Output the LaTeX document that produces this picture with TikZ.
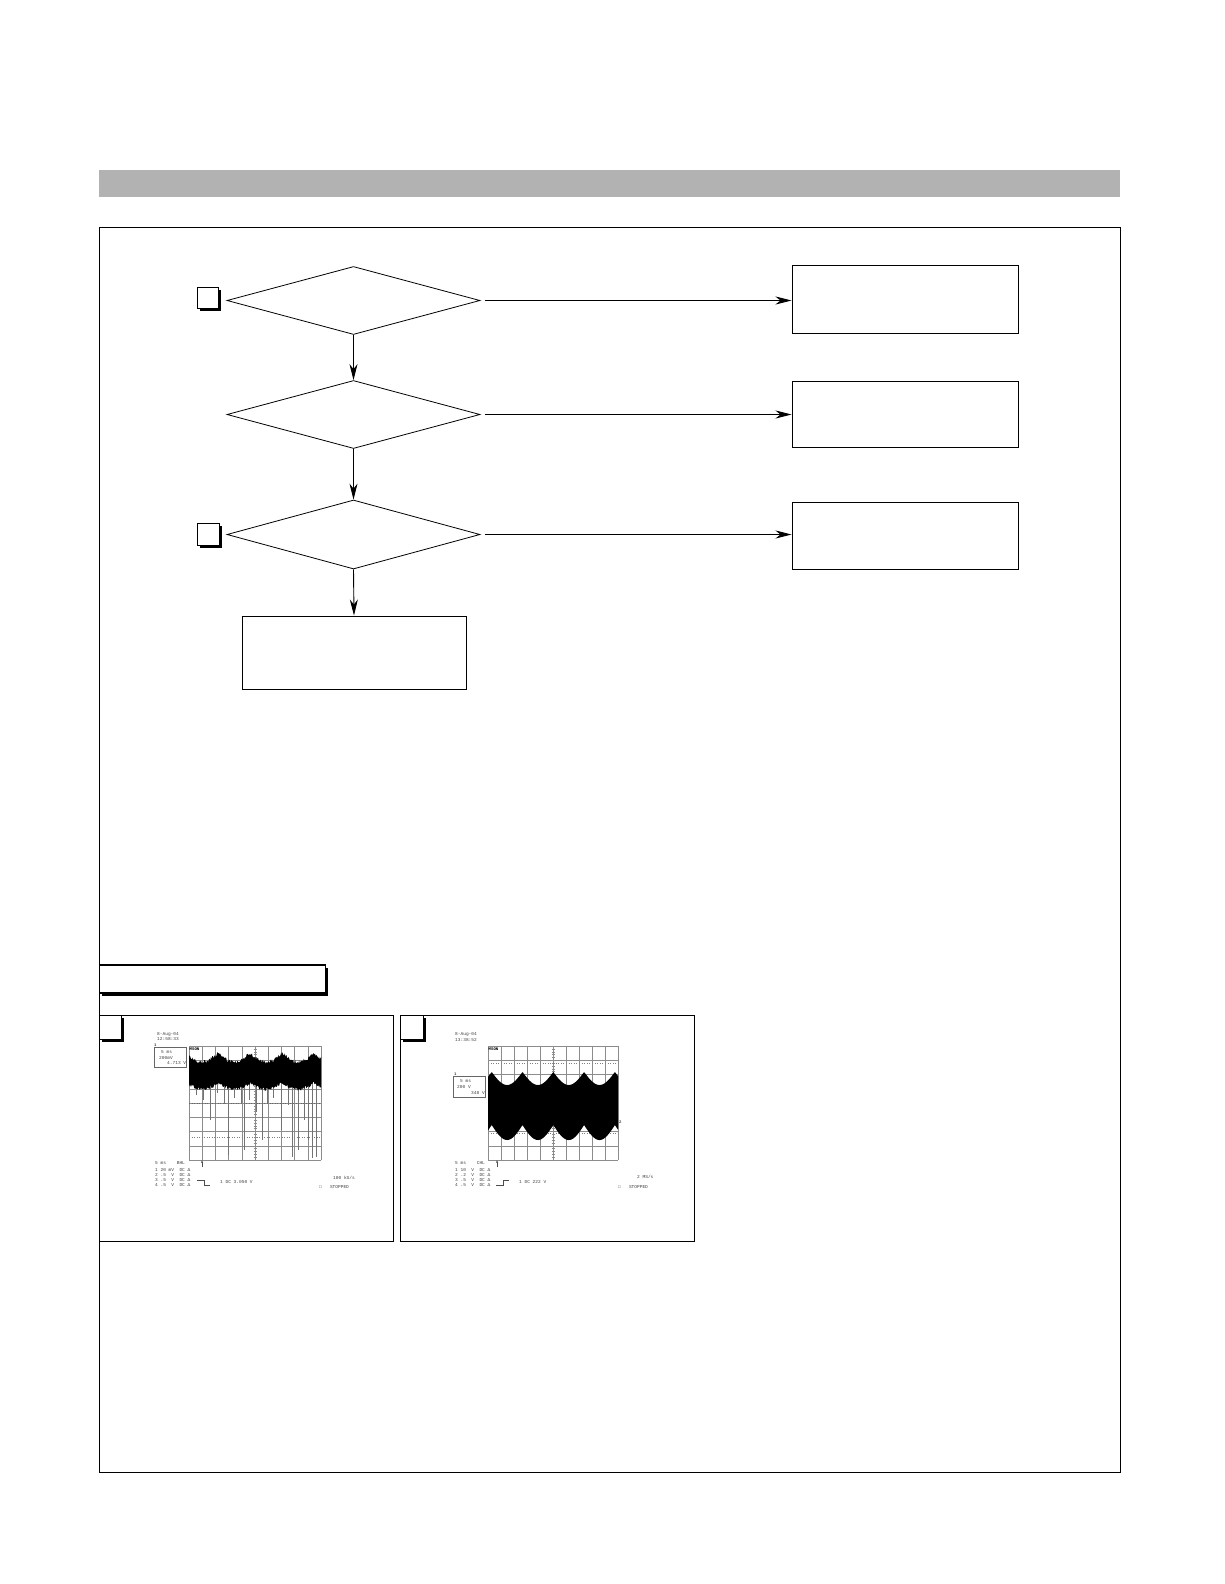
\documentclass[tikz,border=0pt]{standalone}
\usepackage{fontspec}
\setmonofont{Liberation Mono}
\usetikzlibrary{shapes.geometric,arrows.meta,shadows}
\begin{document}
\begin{tikzpicture}[x=1pt,y=-1pt,
  dec/.style={draw,shape=diamond,minimum width=253pt,minimum height=68pt,inner sep=0pt,line width=0.8pt},
  proc/.style={draw,rectangle,line width=1pt,inner sep=0pt},
  arr/.style={line width=0.9pt,-{Stealth[length=16pt,width=8pt,inset=5pt]}},
  shadowed/.style={drop shadow={shadow xshift=2.5pt,shadow yshift=-2.5pt,opacity=1,fill=black}},
  tag/.style={draw,fill=white,rectangle,line width=0.9pt,inner sep=0pt,shadowed},
  panel/.style={draw,rectangle,line width=1pt,inner sep=0pt},
  gridline/.style={black!45,line width=0.4pt},
  stxt/.style={font=\ttfamily\fontsize{4.5}{4.5}\selectfont,text=black!75,inner sep=0pt,anchor=west},
  spike/.style={black!55,line width=0.45pt}]
\useasboundingbox (0,0) rectangle (1224,1584);

% header bar and frame
\fill[black!30] (99,170) rectangle (1120,197);
\draw[line width=1pt] (99,227) rectangle (1120,1472);

% flowchart
\node[dec] (d1) at (353.5,300.5) {};
\node[dec] (d2) at (353.5,414.5) {};
\node[dec,minimum height=69pt] (d3) at (353.5,534.5) {};
\node[proc,minimum width=224pt,minimum height=73pt] (b4) at (354,652.5) {};
\node[proc,minimum width=226pt,minimum height=68pt] (r1) at (905,299) {};
\node[proc,minimum width=226pt,minimum height=66pt] (r2) at (905,414) {};
\node[proc,minimum width=226pt,minimum height=67pt] (r3) at (905,535.5) {};

\node[tag,minimum size=21pt] (m1) at (207.5,297.5) {};
\node[tag,minimum size=22pt] (m3) at (208,534.5) {};

\draw[arr,shorten <=5pt] (d1.east) -- (r1.west |- d1.east);
\draw[arr,shorten <=5pt] (d2.east) -- (r2.west |- d2.east);
\draw[arr,shorten <=5pt] (d3.east) -- (r3.west |- d3.east);
\draw[arr] (d1.south) -- (d2.north);
\draw[arr] (d2.south) -- (d3.north);
\draw[arr] (d3.south) -- (b4.north);

% waveform heading
\node[tag,line width=1.1pt,minimum width=226pt,minimum height=28pt] (wh) at (212.5,979) {};

% panels
\node[panel,minimum width=293.5pt,minimum height=226pt] (p1) at (246.25,1128) {};
\node[panel,minimum width=293.3pt,minimum height=226pt] (p2) at (547.35,1128) {};
\node[tag,minimum width=22pt,minimum height=24pt] (c1) at (110.5,1027) {};
\node[tag,minimum width=22.3pt,minimum height=24pt] (c2) at (411.85,1027) {};

% ---------- scope 1 ----------
\foreach \i in {0,...,10} \draw[gridline] ({189+13.2*\i},1046) -- ({189+13.2*\i},1160);
\foreach \j in {0,...,8} \draw[gridline] (189,{1046+14.25*\j}) -- (321,{1046+14.25*\j});
\foreach \j in {0,...,40} \draw[gridline] (253.5,{1046+2.85*\j}) -- (256.5,{1046+2.85*\j});
\draw[black!60,dotted,line width=0.6pt] (189,1103) -- (321,1103);
\draw[black!50,dotted,line width=0.5pt] (189,1137) -- (321,1137);
\foreach \sx/\sy in {196/1095,203/1100,210/1120,217/1093,224/1104,228/1155,234/1098,241/1104,244/1150,249/1100,256/1112,262/1140,267/1103,273/1098,281/1130,288/1105,292/1157,298/1150,304/1120,308/1140,312/1158,316/1157}
  \draw[spike] (\sx,1085) -- (\sx,\sy);
\pgfmathsetseed{7}
\fill[black] plot[domain=189:321,samples=200] (\x,{1053+9*abs(sin((\x-218)/32*180))+1.8*rand})
  -- plot[domain=321:189,samples=200] (\x,{1083+6*abs(sin((\x-218)/32*180))+1.8*rand}) -- cycle;
\node[stxt,font=\ttfamily\bfseries\fontsize{4}{4}\selectfont,text=black,fill=white] at (189.5,1049) {MSON};
\draw[black!70,line width=0.5pt,-{Stealth[length=3pt,width=2pt]}] (202,1167) -- (202,1160);
\node[stxt] at (157,1034) {8-Aug-04};
\node[stxt] at (157,1039.5) {12:58:33};
\draw[black!60,line width=0.5pt] (154,1047) rectangle (186,1067);
\node[stxt,font=\ttfamily\bfseries\fontsize{4}{4}\selectfont] at (154,1045) {1};
\node[stxt] at (161,1052.5) {5 ms};
\node[stxt] at (159,1058) {200mV};
\node[stxt] at (167,1063.5) {4.713 V};
\node[stxt] at (155,1163) {5 ms\ \ \ \ BHL};
\node[stxt] at (155,1170) {1 20 mV\ \ DC \char"0394};
\node[stxt] at (155,1175) {2 .5\ \ V\ \ DC \char"0394};
\node[stxt] at (155,1180) {3 .5\ \ V\ \ DC \char"0394};
\node[stxt] at (155,1185.5) {4 .5\ \ V\ \ DC \char"0394};
\draw[black!70,line width=0.5pt] (197,1180) -- (204,1180) -- (204,1185) -- (210,1185);
\node[stxt] at (220,1182) {1 DC 3.050 V};
\node[stxt] at (333,1178) {100 kS/s};
\node[stxt] at (319,1187) {\char"25A1\ \ \ STOPPED};

% ---------- scope 2 ----------
\foreach \i in {0,...,10} \draw[gridline] ({488+13*\i},1046) -- ({488+13*\i},1160);
\foreach \j in {0,...,8} \draw[gridline] (488,{1046+14.25*\j}) -- (618,{1046+14.25*\j});
\foreach \j in {0,...,40} \draw[gridline] (551.5,{1046+2.85*\j}) -- (554.5,{1046+2.85*\j});
\draw[black!50,dotted,line width=0.6pt] (488,1063) -- (618,1063);
\draw[black!50,dotted,line width=0.6pt] (488,1133) -- (618,1133);
\fill[black] plot[domain=488:618,samples=260] (\x,{1072+13*abs(sin((\x-491.7)/30.8*180))})
  -- plot[domain=618:488,samples=260] (\x,{1125+15*abs(sin((\x-491.7)/30.8*180))}) -- cycle;
\node[stxt,font=\ttfamily\bfseries\fontsize{4}{4}\selectfont,text=black,fill=white] at (488.5,1049.5) {MSON};
\node[stxt,font=\ttfamily\bfseries\fontsize{4}{4}\selectfont] at (619,1122) {2};
\draw[black!70,line width=0.5pt,-{Stealth[length=3pt,width=2pt]}] (497,1167) -- (497,1160);
\node[stxt] at (455,1034.5) {8-Aug-04};
\node[stxt] at (455,1040) {13:38:52};
\draw[black!60,line width=0.5pt] (453,1076) rectangle (485,1097);
\node[stxt,font=\ttfamily\bfseries\fontsize{4}{4}\selectfont] at (454,1074) {1};
\node[stxt] at (460,1081.5) {5 ms};
\node[stxt] at (457,1087) {200 V};
\node[stxt] at (471,1093) {348 V};
\node[stxt] at (455,1163) {5 ms\ \ \ \ CHL};
\node[stxt] at (455,1170) {1 10\ \ V\ \ DC \char"0394};
\node[stxt] at (455,1175) {2 .2\ \ V\ \ DC \char"0394};
\node[stxt] at (455,1180) {3 .5\ \ V\ \ DC \char"0394};
\node[stxt] at (455,1185.5) {4 .5\ \ V\ \ DC \char"0394};
\draw[black!70,line width=0.5pt] (496,1185) -- (503,1185) -- (503,1180) -- (509,1180);
\node[stxt] at (519,1182) {1 DC 222 V};
\node[stxt] at (637,1177) {2 MS/s};
\node[stxt] at (618,1187) {\char"25A1\ \ \ STOPPED};
\end{tikzpicture}
\end{document}
